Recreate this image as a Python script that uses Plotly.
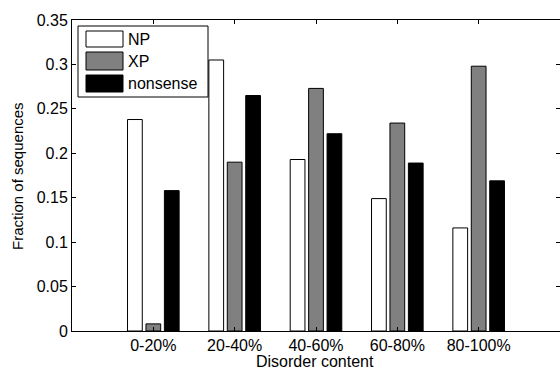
import plotly.graph_objects as go

categories = ["0-20%", "20-40%", "40-60%", "60-80%", "80-100%"]
np_vals = [0.238, 0.305, 0.193, 0.149, 0.116]
xp_vals = [0.008, 0.190, 0.273, 0.234, 0.298]
nonsense_vals = [0.158, 0.265, 0.222, 0.189, 0.169]
series_names = ["NP", "XP", "nonsense"]
series_colors = ["#ffffff", "#808080", "#000000"]
y_ticks = [0, 0.05, 0.1, 0.15, 0.2, 0.25, 0.3, 0.35]
y_ticktext = ["0", "0.05", "0.1", "0.15", "0.2", "0.25", "0.3", "0.35"]

FONT = "Liberation Sans, Arial, Helvetica, sans-serif"

fig = go.Figure()
for name, vals, col in zip(series_names, [np_vals, xp_vals, nonsense_vals], series_colors):
    fig.add_trace(go.Bar(
        x=categories, y=vals, name=name,
        marker=dict(color=col, line=dict(color="#000000", width=1)),
        showlegend=False,
    ))

# custom legend (MATLAB style) in paper coordinates
W, H = 560, 370
ml, mr, mt, mb = 72, 0, 20, 39
pw, ph = W - ml - mr, H - mt - mb

def px(x):
    return (x - ml) / pw

def py(y):
    return 1 - (y - mt) / ph

shapes = [dict(type="rect", xref="paper", yref="paper",
               x0=px(78), x1=px(208), y0=py(97), y1=py(26),
               line=dict(color="black", width=1), fillcolor="white", layer="above")]
annotations = []
patch_rows = [(31, 47), (52, 70), (75, 92)]
for (t, b), name, col in zip(patch_rows, series_names, series_colors):
    shapes.append(dict(type="rect", xref="paper", yref="paper",
                       x0=px(86), x1=px(123), y0=py(b), y1=py(t),
                       line=dict(color="black", width=1), fillcolor=col, layer="above"))
    annotations.append(dict(xref="paper", yref="paper", x=px(126), y=py((t + b) / 2),
                            text=name, showarrow=False, xanchor="left", yanchor="middle",
                            font=dict(family=FONT, size=16, color="black")))

# axis titles
annotations.append(dict(xref="paper", yref="paper", x=px(315), y=py(362),
                        text="Disorder content", showarrow=False,
                        xanchor="center", yanchor="middle",
                        font=dict(family=FONT, size=16, color="black")))
annotations.append(dict(xref="paper", yref="paper", x=px(17), y=py(176),
                        text="Fraction of sequences", showarrow=False, textangle=-90,
                        xanchor="center", yanchor="middle",
                        font=dict(family=FONT, size=15, color="black")))

fig.update_layout(
    width=W, height=H,
    margin=dict(l=ml, r=mr, t=mt, b=mb, autoexpand=False),
    paper_bgcolor="white", plot_bgcolor="white",
    barmode="group", bargap=0.32, bargroupgap=0.2,
    font=dict(family=FONT, size=16, color="black"),
    shapes=shapes, annotations=annotations,
    xaxis=dict(
        range=[-1, 5.0], showgrid=False, zeroline=False, automargin=False,
        showline=True, linecolor="black", linewidth=1, mirror="ticks",
        ticks="inside", ticklen=4, tickcolor="black",
        tickfont=dict(family=FONT, size=16),
    ),
    yaxis=dict(
        range=[0, 0.35], showgrid=False, zeroline=False, automargin=False,
        showline=True, linecolor="black", linewidth=1, mirror="ticks",
        ticks="inside", ticklen=4, tickcolor="black",
        tickvals=y_ticks, ticktext=y_ticktext,
        tickfont=dict(family=FONT, size=16),
    ),
)

fig.write_html(
    "out.html",
    config={"displayModeBar": False},
    post_script="document.body.style.margin='0';document.body.style.padding='0';document.body.style.overflow='hidden';",
)
